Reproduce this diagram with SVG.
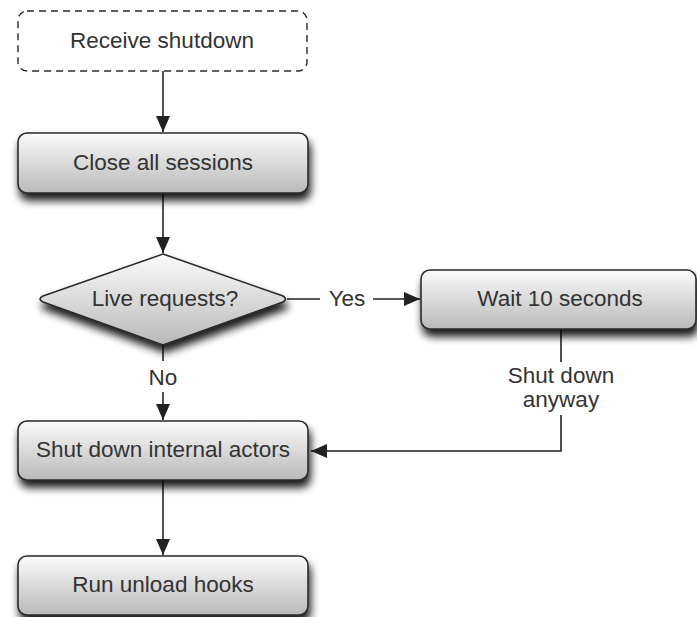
<svg xmlns="http://www.w3.org/2000/svg" width="697" height="617" viewBox="0 0 697 617">
<defs>
<linearGradient id="g" x1="0" y1="0" x2="0" y2="1">
<stop offset="0" stop-color="#fbfbfb"/>
<stop offset="1" stop-color="#b9b9b9"/>
</linearGradient>
<filter id="sh" x="-10%" y="-20%" width="125%" height="160%">
<feGaussianBlur in="SourceAlpha" stdDeviation="4.5"/>
<feOffset dx="2" dy="7" result="b"/>
<feComponentTransfer><feFuncA type="linear" slope="0.9"/></feComponentTransfer>
<feMerge><feMergeNode/><feMergeNode in="SourceGraphic"/></feMerge>
</filter>
<marker id="ah" viewBox="0 0 16 14" refX="16" refY="7" markerWidth="16" markerHeight="14" markerUnits="userSpaceOnUse" orient="auto">
<path d="M0,0 L16,7 L0,14 Z" fill="#222"/>
</marker>
<style>
.box{fill:url(#g);stroke:#2a2a2a;stroke-width:1.6;filter:url(#sh)}
.dash{fill:#fff;stroke:#2a2a2a;stroke-width:1.4;stroke-dasharray:7 5}
text{font-family:"Liberation Sans",Arial,Helvetica,sans-serif;font-size:22.5px;fill:#333;text-anchor:middle}
.c{fill:none;stroke:#222;stroke-width:1.6}
</style>
</defs>
<g id="connectors">
<line class="c" x1="163" y1="71" x2="163" y2="132" marker-end="url(#ah)"/>
<line class="c" x1="163" y1="193" x2="163" y2="253" marker-end="url(#ah)"/>
<line class="c" x1="163" y1="345" x2="163" y2="361"/>
<line class="c" x1="163" y1="392" x2="163" y2="420" marker-end="url(#ah)"/>
<line class="c" x1="163" y1="480" x2="163" y2="555" marker-end="url(#ah)"/>
<line class="c" x1="287" y1="299" x2="320" y2="299"/>
<line class="c" x1="373" y1="299" x2="420" y2="299" marker-end="url(#ah)"/>
<line class="c" x1="561" y1="329" x2="561" y2="362"/>
<polyline class="c" points="561,415 561,451 311,451" marker-end="url(#ah)"/>
<text x="163" y="385">No</text>
<text x="347" y="306">Yes</text>
<text x="561" y="383">Shut down</text>
<text x="561" y="407">anyway</text>
</g>
<g id="receive">
<rect class="dash" x="18" y="11" width="289" height="60" rx="9"/>
<text x="162" y="48">Receive shutdown</text>
</g>
<g id="close">
<rect class="box" x="18" y="133" width="290" height="60" rx="9"/>
<text x="163" y="170">Close all sessions</text>
</g>
<g id="decision">
<path class="box" d="M163,254 L283,296 Q288,299 283,302 L163,345 L43,302 Q37,299 43,296 Z"/>
<text x="165" y="306">Live requests?</text>
</g>
<g id="wait">
<rect class="box" x="421" y="270" width="275" height="59" rx="9"/>
<text x="560" y="306">Wait 10 seconds</text>
</g>
<g id="shutdown">
<rect class="box" x="18" y="421" width="290" height="59" rx="9"/>
<text x="163" y="457">Shut down internal actors</text>
</g>
<g id="unload">
<rect class="box" x="18" y="556" width="290" height="59" rx="9"/>
<text x="163" y="592">Run unload hooks</text>
</g>
</svg>
